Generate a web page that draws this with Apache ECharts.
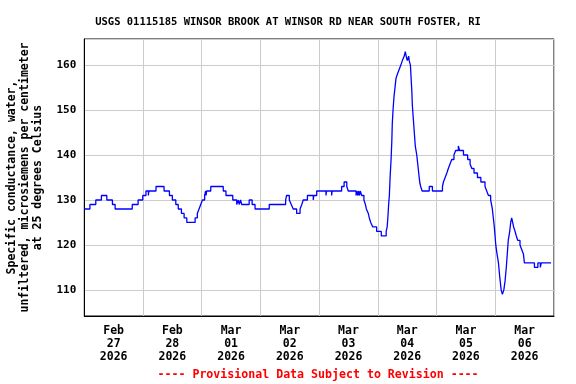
<!DOCTYPE html>
<html>
<head>
<meta charset="utf-8">
<script src="https://cdn.jsdelivr.net/npm/echarts@6/dist/echarts.min.js"></script>
<style>
html,body{margin:0;padding:0;background:#fff;}
#chart{width:576px;height:384px;}
</style>
</head>
<body>
<div id="chart"></div>
<script>
// Hours since 2026-02-27 00:00 at which the reading changes, and the reading (µS/cm)
const hours = [
  0, 2.3, 4.7, 7.0, 9.2, 11.5, 12.6, 19.6, 22.0, 23.9, 25.2, 26.2, 26.4, 29.3, 32.6, 34.8, 36.0, 37.4, 38.4, 39.7,
  40.8, 41.9, 45.3, 46.2, 46.9, 47.6, 48.3, 49.2, 49.6, 49.8, 50.0, 51.7, 56.8, 57.9, 60.7, 62.3, 63.0, 63.3, 63.9, 64.3,
  67.4, 68.6, 69.8, 75.6, 82.3, 82.7, 83.8, 84.6, 85.4, 86.8, 88.2, 88.9, 89.5, 91.2, 93.6, 93.8, 95.0, 98.8, 99.0, 101.1,
  101.3, 105.2, 106.2, 107.3, 107.9, 111.1, 111.4, 111.8, 112.1, 112.5, 112.8, 113.4, 114.3, 114.9, 115.3, 116.1, 116.5, 117.1, 117.9, 119.5,
  121.4, 123.4, 123.8, 124.2, 124.4, 124.7, 125.0, 125.4, 125.7, 125.9, 126.2, 126.6, 127.0, 127.4, 128.0, 128.7, 129.4, 130.0, 130.8, 131.2,
  131.6, 132.0, 132.6, 132.8, 133.3, 133.6, 133.9, 134.1, 134.5, 134.9, 135.3, 135.9, 136.3, 136.7, 137.1, 137.5, 138.1, 141.0, 142.3, 146.4,
  146.8, 147.5, 148.2, 148.8, 149.5, 150.2, 151.1, 151.8, 152.9, 153.4, 155.0, 156.7, 157.7, 158.4, 159.3, 160.7, 162.1, 163.8, 164.5, 165.2,
  166.1, 166.8, 167.2, 167.6, 168.2, 168.7, 169.3, 169.8, 170.4, 170.9, 171.5, 172.0, 172.5, 172.9, 173.3, 173.9, 174.3, 174.7, 175.1, 175.5,
  176.1, 176.6, 177.2, 178.1, 178.8, 179.5, 179.9, 184.0, 185.4, 186.4, 186.8, 190.8
];
const values = [
  128, 129, 130, 131, 130, 129, 128, 129, 130, 131, 132, 131, 132, 133, 132, 131, 130, 129, 128, 127,
  126, 125, 126, 127, 128, 129, 130, 131, 132, 131, 132, 133, 132, 131, 130, 129, 130, 129, 130, 129,
  130, 129, 128, 129, 130, 131, 130, 129, 128, 127, 128, 129, 130, 131, 130, 131, 132, 131, 132, 131,
  132, 133, 134, 133, 132, 131, 132, 131, 132, 131, 132, 131, 130, 129, 128, 127, 126, 125, 124, 123,
  122, 123, 124, 127, 129, 131, 135, 139, 143, 147, 150, 153, 155, 157, 158, 159, 160, 161, 162, 163,
  162, 161, 162, 161, 160, 157, 154, 151, 148, 145, 142, 140, 138, 136, 134, 133, 132, 133, 132, 133,
  134, 135, 136, 137, 138, 139, 140, 141, 142, 141, 140, 139, 138, 137, 136, 135, 134, 133, 132, 131,
  130, 128, 126, 124, 120, 118, 116, 113, 110, 109, 110, 112, 115, 118, 121, 123, 125, 126, 125, 124,
  123, 122, 121, 120, 119, 118, 116, 115, 116, 115, 116, 116
];
const dayLabels = ['Feb\n27\n2026', 'Feb\n28\n2026', 'Mar\n01\n2026', 'Mar\n02\n2026',
                   'Mar\n03\n2026', 'Mar\n04\n2026', 'Mar\n05\n2026', 'Mar\n06\n2026'];
const titleText = 'USGS 01115185 WINSOR BROOK AT WINSOR RD NEAR SOUTH FOSTER, RI';
const yName = 'Specific conductance, water,\nunfiltered, microsiemens per centimeter\nat 25 degrees Celsius';
const footerText = '---- Provisional Data Subject to Revision ----';

const FONT = '"DejaVu Sans Mono", "Liberation Mono", monospace';
const chart = echarts.init(document.getElementById('chart'), null, {renderer: 'canvas'});
chart.setOption({
  animation: false,
  backgroundColor: '#ffffff',
  title: {
    text: titleText,
    left: 'center',
    top: 12,
    textStyle: {fontFamily: FONT, fontWeight: 'bold', fontSize: 10.5, color: '#000'}
  },
  graphic: [{
    type: 'text',
    left: 318.5 - 161,
    top: 369,
    style: {text: footerText, fill: '#ff0000', font: 'bold 11.6px ' + FONT}
  }],
  grid: {
    left: 84.3, right: 22, top: 39, bottom: 68,
    show: true, borderColor: '#000', borderWidth: 1,
    containLabel: false, outerBoundsMode: 'none'
  },
  xAxis: [{
    type: 'value', min: 0, max: 192, interval: 24,
    axisLabel: {show: false}, axisTick: {show: false},
    axisLine: {lineStyle: {color: '#000', width: 1}},
    splitLine: {show: true, lineStyle: {color: '#cccccc', width: 1}}
  }, {
    type: 'category', data: dayLabels, position: 'bottom', boundaryGap: true,
    axisLine: {show: false}, axisTick: {show: false}, splitLine: {show: false},
    axisLabel: {
      interval: 0, margin: 9, color: '#000', fontFamily: FONT, fontWeight: 'bold',
      fontSize: 11.5, lineHeight: 13
    }
  }],
  yAxis: {
    type: 'value', min: 104.2, max: 165.8, splitNumber: 6,
    name: yName, nameLocation: 'middle', nameGap: 40,
    nameTextStyle: {fontFamily: FONT, fontWeight: 'bold', fontSize: 11.5, lineHeight: 13, color: '#000', align: 'center'},
    axisLine: {show: true, lineStyle: {color: '#000', width: 1}},
    axisTick: {show: false},
    axisLabel: {showMinLabel: false, showMaxLabel: false, margin: 8, color: '#000',
      fontFamily: FONT, fontWeight: 'bold', fontSize: 11},
    splitLine: {show: true, lineStyle: {color: '#cccccc', width: 1}}
  },
  series: [{
    type: 'line', xAxisIndex: 0, step: 'end', showSymbol: false,
    lineStyle: {color: '#0000ff', width: 1.3},
    data: hours.map((h, i) => [h, values[i]])
  }]
});
</script>
</body>
</html>
